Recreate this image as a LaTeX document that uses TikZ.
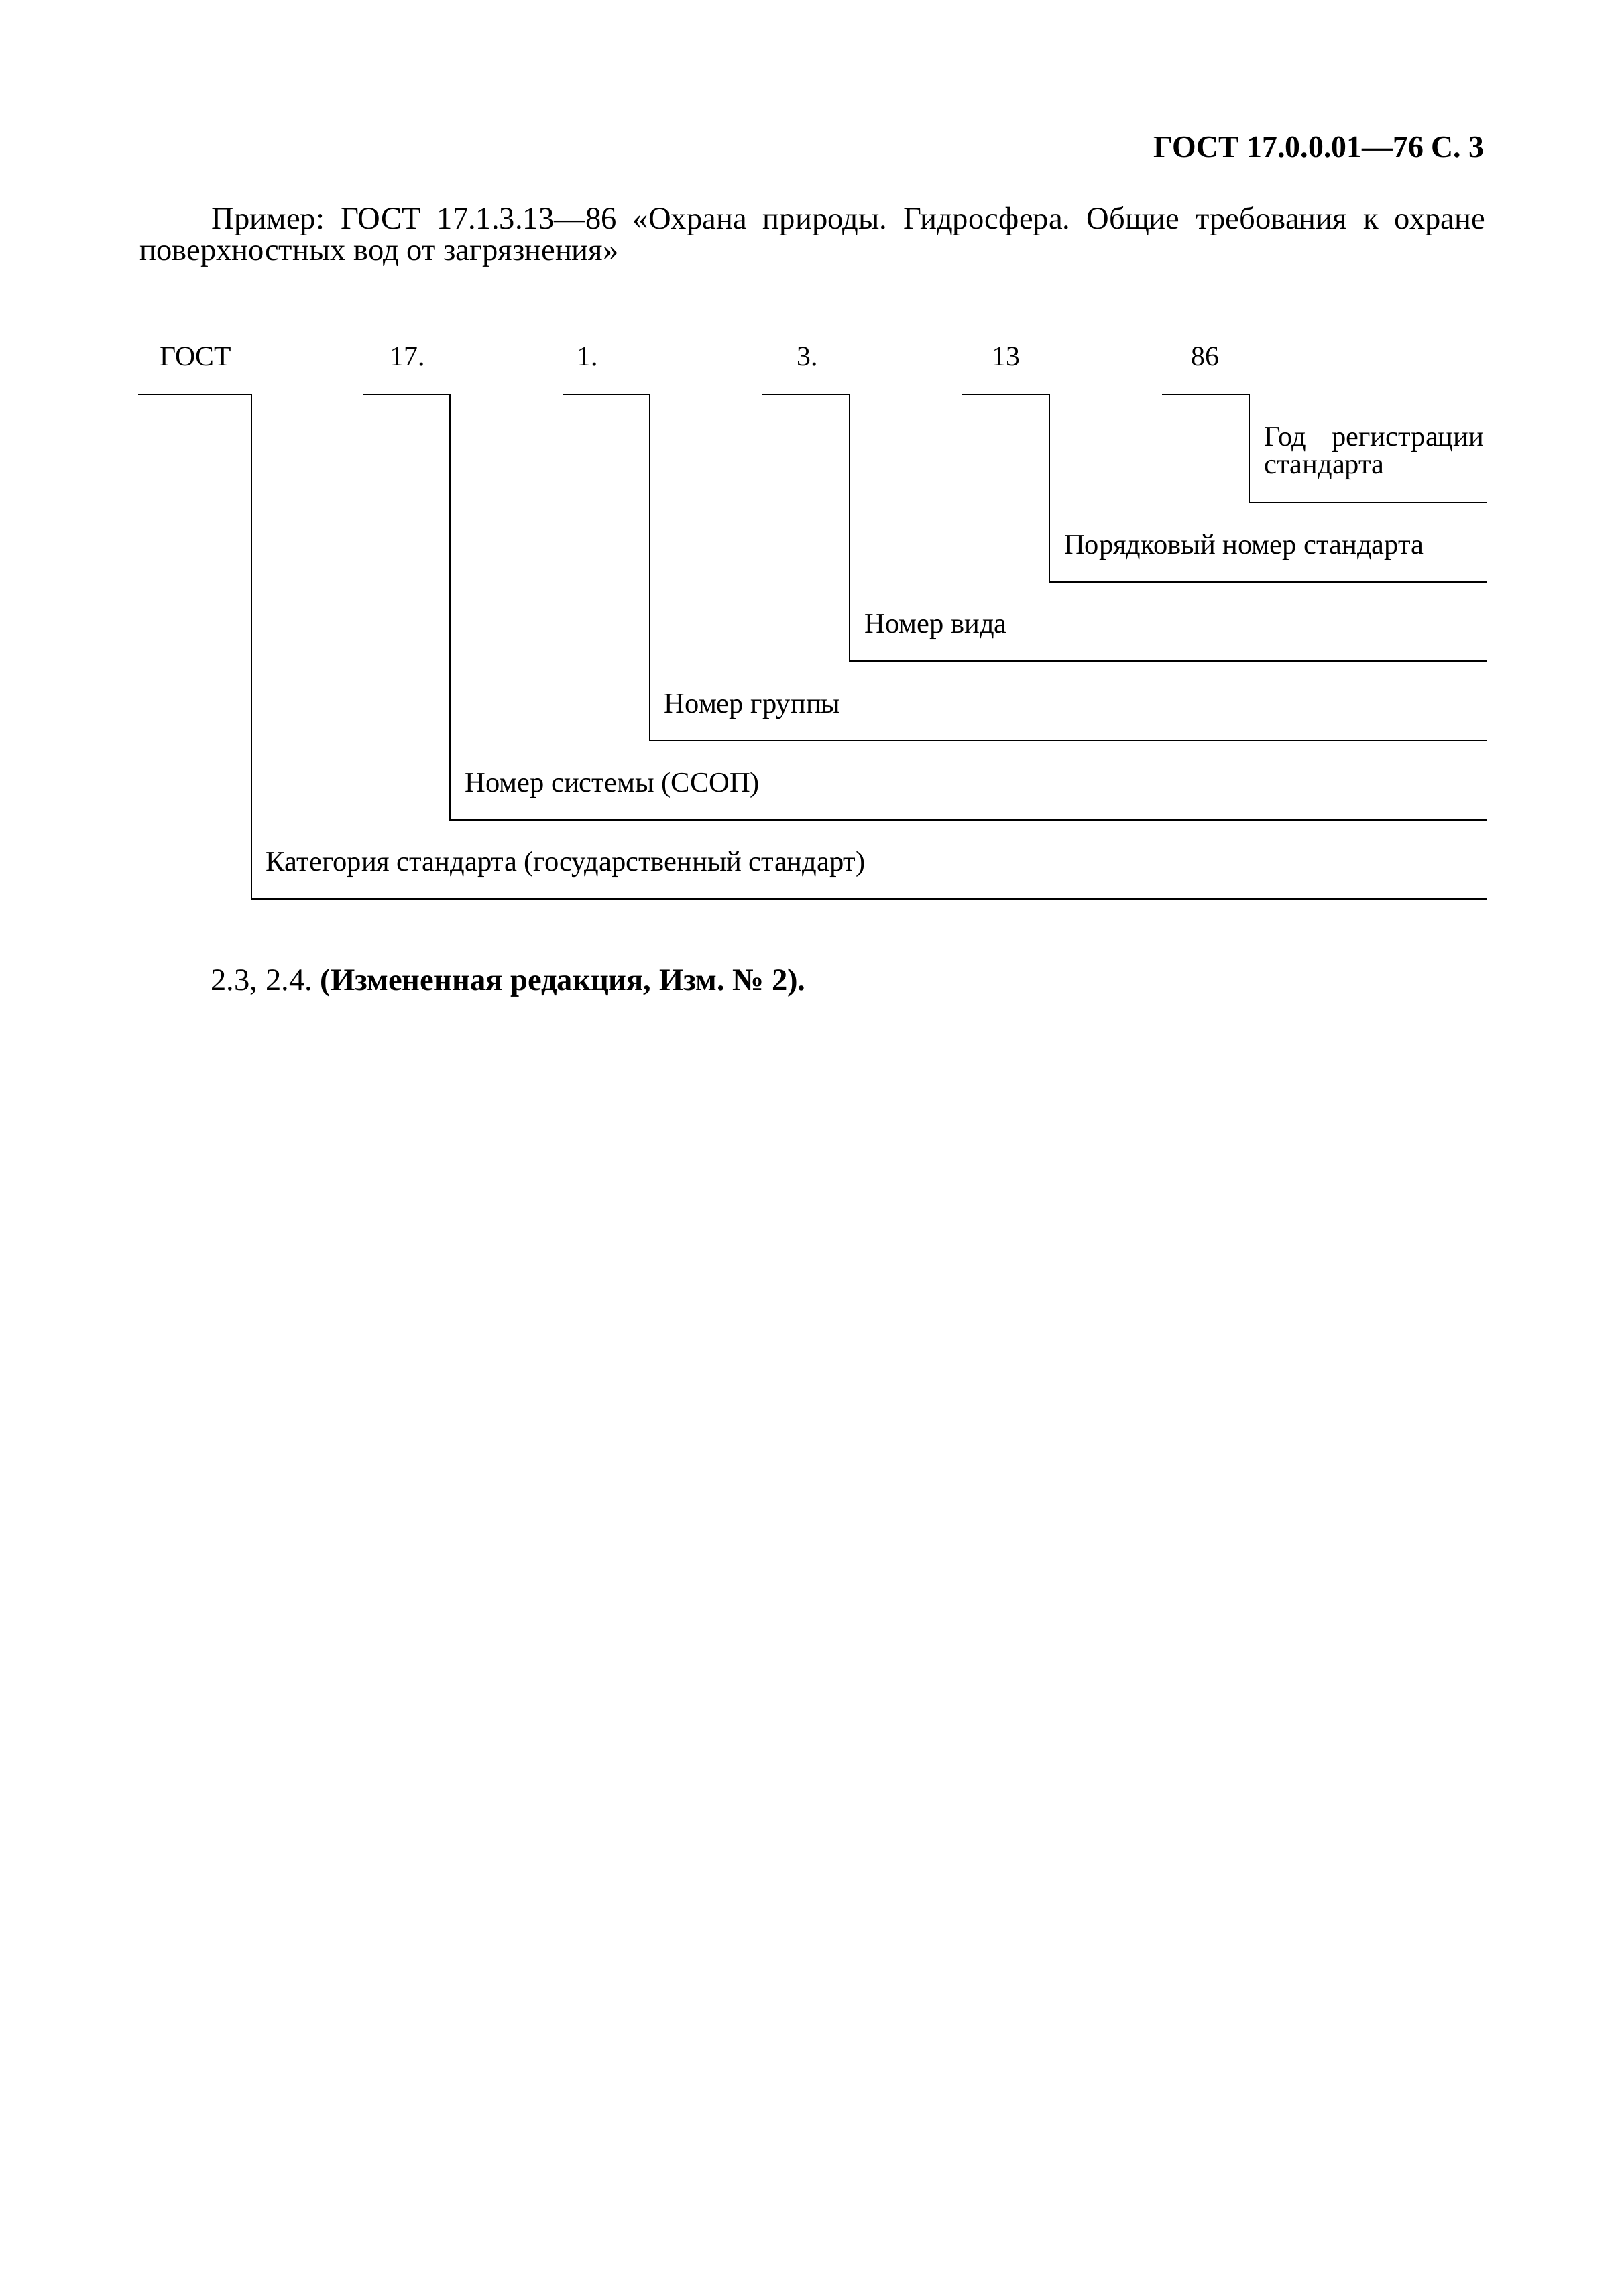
\documentclass[tikz,border=0pt]{standalone}
\usepackage{fontspec}
\setmainfont{Liberation Serif}
\usepackage{tikz}
\usetikzlibrary{positioning,calc}
\tikzset{
	codelabel/.style={anchor=base, inner sep=0pt, font=\fontsize{10.3}{10.3}\selectfont},
	legtext/.style={anchor=base west, inner sep=0pt, font=\fontsize{10.5}{10.2}\selectfont\frenchspacing},
	bodytext/.style={inner sep=0pt, font=\fontsize{11.5}{11.7}\selectfont\frenchspacing},
	legline/.style={line width=0.45pt, line join=miter}
}

\begin{document}
\begin{tikzpicture}[x=1mm, y=-1mm]
	
	%% -- page (A4)
	\fill[white] (0,0) rectangle (210,297);
	
	%% -- running head
	\node[bodytext, anchor=base east, font=\fontsize{11.3}{11.7}\selectfont\bfseries] (head)
	at (192.0,20.3) {ГОСТ 17.0.0.01—76 С. 3};
	
	%% -- example paragraph
	\node[bodytext, anchor=base west, text width=174mm, align=justify] (example)
	at (18.0,29.6)
	{\hspace*{9.3mm}Пример: ГОСТ 17.1.3.13—86 «Охрана природы. Гидросфера. Общие требования к~охране\linebreak
		поверхностных вод от загрязнения»};
	
	%% -- parts of the designation
	\node[codelabel] (gost) at (25.3,47.3) {ГОСТ};
	\node[codelabel] (sys)  at (52.7,47.3) {17.};
	\node[codelabel] (grp)  at (76.0,47.3) {1.};
	\node[codelabel] (kind) at (104.4,47.3) {3.};
	\node[codelabel] (num)  at (130.1,47.3) {13};
	\node[codelabel] (year) at (155.9,47.3) {86};
	
	%% -- bracket corners
	\coordinate (gost-s) at (17.9,51.0);  \coordinate (gost-c) at (32.5,51.0);
	\coordinate (sys-s)  at (47.0,51.0);  \coordinate (sys-c)  at (58.2,51.0);
	\coordinate (grp-s)  at (72.8,51.0);  \coordinate (grp-c)  at (84.0,51.0);
	\coordinate (kind-s) at (98.6,51.0);  \coordinate (kind-c) at (109.9,51.0);
	\coordinate (num-s)  at (124.4,51.0); \coordinate (num-c)  at (135.7,51.0);
	\coordinate (year-s) at (150.3,51.0); \coordinate (year-c) at (161.6,51.0);
	
	\coordinate (gost-b) at (32.5,116.3);  \coordinate (gost-e) at (192.3,116.3);
	\coordinate (sys-b)  at (58.2,106.05); \coordinate (sys-e)  at (192.3,106.05);
	\coordinate (grp-b)  at (84.0,95.8);   \coordinate (grp-e)  at (192.3,95.8);
	\coordinate (kind-b) at (109.9,85.5);  \coordinate (kind-e) at (192.3,85.5);
	\coordinate (num-b)  at (135.7,75.25); \coordinate (num-e)  at (192.3,75.25);
	\coordinate (year-b) at (161.6,65.0);  \coordinate (year-e) at (192.3,65.0);
	
	%% -- brackets
	\draw[legline] (gost-s) -- (gost-c) -- (gost-b) -- (gost-e);
	\draw[legline] (sys-s)  -- (sys-c)  -- (sys-b)  -- (sys-e);
	\draw[legline] (grp-s)  -- (grp-c)  -- (grp-b)  -- (grp-e);
	\draw[legline] (kind-s) -- (kind-c) -- (kind-b) -- (kind-e);
	\draw[legline] (num-s)  -- (num-c)  -- (num-b)  -- (num-e);
	\draw[legline] (year-s) -- (year-c) -- (year-b) -- (year-e);
	
	%% -- captions
	\node[legtext] (gost-t) at ($(gost-b)+(1.85,-3.6)$) {Категория стандарта (государственный стандарт)};
	\node[legtext] (sys-t)  at ($(sys-b)+(1.85,-3.6)$)  {Номер системы (ССОП)};
	\node[legtext] (grp-t)  at ($(grp-b)+(1.85,-3.6)$)  {Номер группы};
	\node[legtext] (kind-t) at ($(kind-b)+(1.85,-3.6)$) {Номер вида};
	\node[legtext] (num-t)  at ($(num-b)+(1.85,-3.6)$)  {Порядковый номер стандарта};
	\node[legtext, text width=28.4mm, align=justify] (year-t)
	at ($(year-b)+(1.85,-7.3)$) {Год регистрации стандарта};
	
	%% -- amendment note
	\node[bodytext, anchor=base west] (note) at (27.2,128.1)
	{2.3, 2.4. \textbf{(Измененная редакция, Изм. №~2).}};
	
\end{tikzpicture}
\end{document}
